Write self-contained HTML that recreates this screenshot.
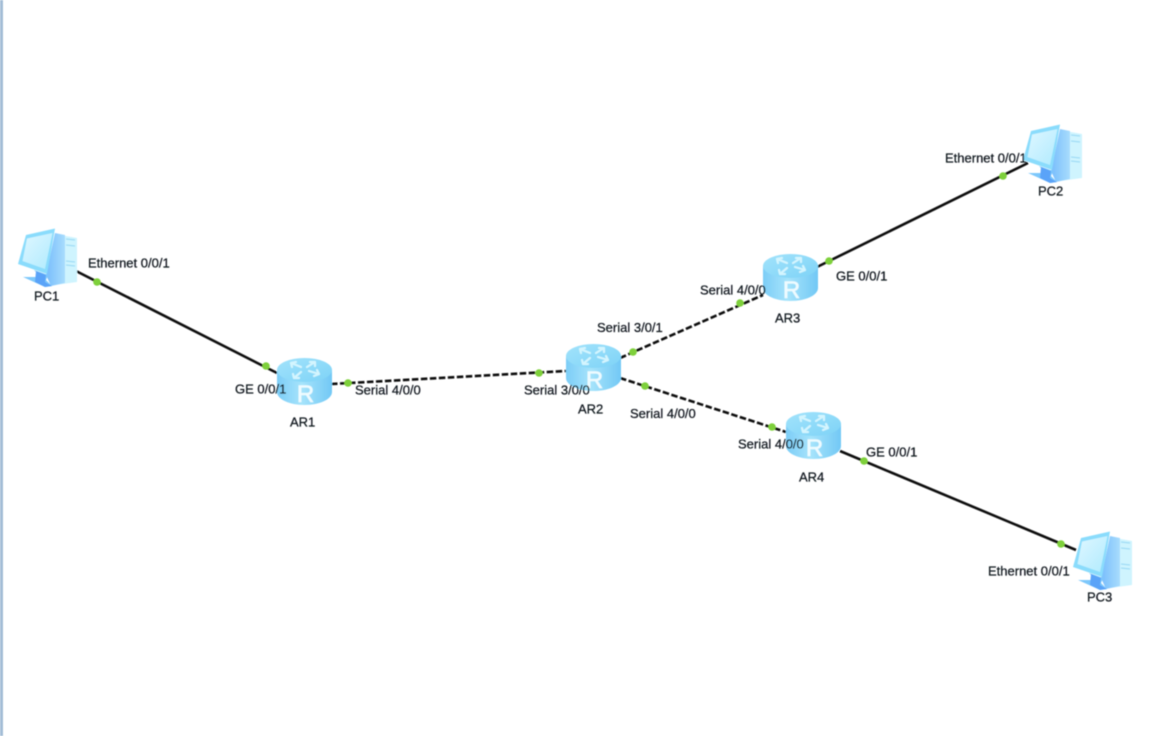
<!DOCTYPE html>
<html><head><meta charset="utf-8"><style>
html,body{margin:0;padding:0;background:#fff;width:1161px;height:736px;overflow:hidden}
svg{display:block}
text{font-family:"Liberation Sans",sans-serif;font-size:13px;fill:#11181f;stroke:#11181f;stroke-width:.25px}
</style></head><body>
<svg width="1161" height="736" viewBox="0 0 1161 736" xmlns="http://www.w3.org/2000/svg">
<defs>
<filter id="soft" x="-5%" y="-5%" width="110%" height="110%"><feGaussianBlur stdDeviation="0.45"/></filter>
<linearGradient id="rb" x1="0" x2="1" y1="0" y2="0"><stop offset="0" stop-color="#7ccdf7"/><stop offset=".45" stop-color="#a6e4fb"/><stop offset="1" stop-color="#72c8f5"/></linearGradient>
<linearGradient id="rt" x1="0" x2="1" y1="0" y2="1"><stop offset="0" stop-color="#a2e3fb"/><stop offset="1" stop-color="#7ed3f7"/></linearGradient>
<linearGradient id="scr" x1="0" x2="1" y1="0" y2="1"><stop offset="0" stop-color="#dff7ff"/><stop offset="1" stop-color="#b0ebfe"/></linearGradient>
<linearGradient id="side" x1="0" x2="1" y1="0" y2="0"><stop offset="0" stop-color="#78bdfc"/><stop offset="1" stop-color="#a8dcfd"/></linearGradient>
<g id="router">
<path d="M0 12V34C0 41 12 47 27.500 47S55 41 55 34V12Z" fill="url(#rb)"/>
<ellipse cx="27.500" cy="12" rx="27.500" ry="12" fill="url(#rt)"/>
<g stroke="#d4f5fe" stroke-width="2.200" fill="none" stroke-linecap="round" stroke-linejoin="round">
<path d="M24 9L14 5M14 5L19 4M14 5L15 9"/>
<path d="M30 9L38 4M38 4L33 4M38 4L38 8"/>
<path d="M32 13L42 16M42 16L37 18M42 16L40 12"/>
<path d="M24 14L17 20M17 20L22 20M17 20L16 16"/>
</g>
<text x="28.500" y="44" text-anchor="middle" style="font-size:24px;fill:#eefbff;stroke:#eefbff;stroke-width:.6px">R</text>
</g>
<g id="pc">
<path d="M37 6L59 10V54L37 57Z" fill="#cff4fe"/>
<path d="M37 5L47 7V55L33 58L28 47Z" fill="url(#side)"/>
<path d="M48 11l9 1M48 17l9 1M48 33l9 1M48 37l9 1" stroke="#9edcf6" stroke-width="1.200"/>
<path d="M8 7L37 .5L29 46L0 36Z" fill="#8adcfc"/>
<path d="M9 10.500L34.500 5L27 41L4.500 33Z" fill="url(#scr)"/>
<path d="M16 42L30 47L28 52L34 58L27 59L5 49L18 49L19 45Z" fill="#7dc8fb"/>
<path d="M18 43L28 47L27 54L34 58L27 59L17 54Z" fill="#5aa3f8"/>
</g>
</defs>

<rect width="1161" height="736" fill="#fff"/>
<g filter="url(#soft)">
<rect x="0" y="0" width="3" height="736" fill="#a3bdd6"/>

<g stroke="#111" stroke-width="2.600" fill="none">
<path d="M76 271L277 373"/>
<path d="M817 267L1028 163"/>
<path d="M840 451L1076 550"/>
<path d="M331 384L566 371" stroke-dasharray="6.500 2.500"/>
<path d="M620 358L763 295" stroke-dasharray="6.500 2.500"/>
<path d="M620 378L786 432" stroke-dasharray="6.500 2.500"/>
</g>

<g fill="#7ed03a">
<circle cx="97" cy="282" r="3.800"/><circle cx="266" cy="366" r="3.800"/>
<circle cx="348" cy="383" r="3.800"/><circle cx="539" cy="373" r="3.800"/>
<circle cx="633" cy="352" r="3.800"/><circle cx="740" cy="303" r="3.800"/>
<circle cx="829" cy="261" r="3.800"/><circle cx="1003" cy="176" r="3.800"/>
<circle cx="645" cy="386" r="3.800"/><circle cx="772" cy="427" r="3.800"/>
<circle cx="864" cy="461" r="3.800"/><circle cx="1061" cy="544" r="3.800"/>
</g>

<use href="#pc" x="18" y="228"/>
<use href="#pc" x="1023" y="124"/>
<use href="#pc" x="1073" y="531"/>
<use href="#router" x="277" y="358"/>
<use href="#router" x="566" y="344"/>
<use href="#router" x="763" y="254"/>
<use href="#router" x="786" y="412"/>

<text x="88" y="267.500">Ethernet 0/0/1</text>
<text x="34" y="300.500">PC1</text>
<text x="235" y="393.500">GE 0/0/1</text>
<text x="290" y="426.500">AR1</text>
<text x="355" y="394.500">Serial 4/0/0</text>
<text x="524" y="394.500">Serial 3/0/0</text>
<text x="578" y="413.500">AR2</text>
<text x="597" y="332">Serial 3/0/1</text>
<text x="630" y="418">Serial 4/0/0</text>
<text x="700" y="294.500">Serial 4/0/0</text>
<text x="775" y="322.500">AR3</text>
<text x="836" y="280.500">GE 0/0/1</text>
<text x="945" y="162.500">Ethernet 0/0/1</text>
<text x="1038" y="195.500">PC2</text>
<text x="738" y="448.500">Serial 4/0/0</text>
<text x="799" y="481.500">AR4</text>
<text x="866" y="456.500">GE 0/0/1</text>
<text x="988" y="575.500">Ethernet 0/0/1</text>
<text x="1087" y="601.500">PC3</text>
</g>
</svg>
</body></html>
